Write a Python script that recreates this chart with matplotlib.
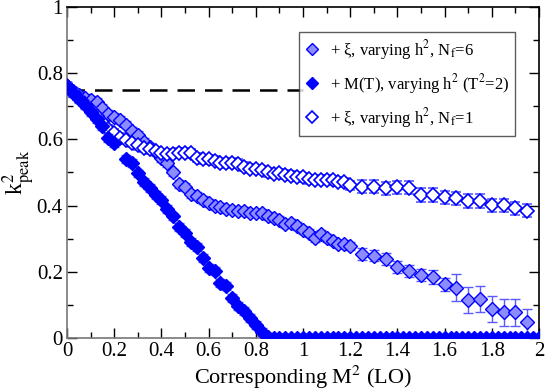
import matplotlib
matplotlib.use("Agg")
import matplotlib.pyplot as plt
from matplotlib.lines import Line2D
from matplotlib.ticker import MultipleLocator

plt.rcParams['font.family'] = ['Liberation Serif', 'DejaVu Serif']
plt.rcParams['mathtext.fontset'] = 'stix'

# x grid of the xi-series (dense up to 1.2, then every 0.05)
x_xi = [0.000, 0.025, 0.050, 0.075, 0.100, 0.125, 0.150, 0.175, 0.200, 0.225,
        0.250, 0.275, 0.300, 0.325, 0.350, 0.375, 0.400, 0.425, 0.450, 0.475,
        0.500, 0.525, 0.550, 0.575, 0.600, 0.625, 0.650, 0.675, 0.700, 0.725,
        0.750, 0.775, 0.800, 0.825, 0.850, 0.875, 0.900, 0.925, 0.950, 0.975,
        1.000, 1.025, 1.050, 1.075, 1.100, 1.125, 1.150, 1.175, 1.200,
        1.25, 1.30, 1.35, 1.40, 1.45, 1.50, 1.55, 1.60, 1.65, 1.70, 1.75,
        1.80, 1.85, 1.90, 1.95]

# + xi, varying h^2, N_f=6
k2_nf6 = [0.760, 0.745, 0.735, 0.725, 0.720, 0.712, 0.695, 0.678, 0.667, 0.658,
          0.645, 0.625, 0.613, 0.592, 0.576, 0.562, 0.545, 0.528, 0.500, 0.465,
          0.455, 0.436, 0.428, 0.417, 0.407, 0.399, 0.397, 0.389, 0.387, 0.385,
          0.384, 0.379, 0.379, 0.378, 0.369, 0.362, 0.356, 0.345, 0.348, 0.338,
          0.326, 0.316, 0.301, 0.314, 0.301, 0.292, 0.285, 0.285, 0.277,
          0.254, 0.249, 0.238, 0.213, 0.201, 0.190, 0.184, 0.162, 0.152, 0.115,
          0.117, 0.088, 0.077, 0.077, 0.048]
err_nf6 = [0.012] * 49 + [0.018, 0.018, 0.018, 0.018, 0.018, 0.018, 0.02, 0.02,
                          0.04, 0.04, 0.04, 0.04, 0.04, 0.04, 0.04]

# + xi, varying h^2, N_f=1
k2_nf1 = [0.760, 0.742, 0.725, 0.708, 0.690, 0.672, 0.652, 0.632, 0.618, 0.605,
          0.598, 0.590, 0.582, 0.575, 0.570, 0.565, 0.558, 0.555, 0.557, 0.560,
          0.560, 0.558, 0.545, 0.540, 0.540, 0.536, 0.530, 0.528, 0.530, 0.527,
          0.518, 0.512, 0.510, 0.508, 0.500, 0.496, 0.497, 0.493, 0.490, 0.487,
          0.485, 0.479, 0.478, 0.478, 0.478, 0.476, 0.472, 0.470, 0.461,
          0.457, 0.457, 0.452, 0.455, 0.454, 0.432, 0.432, 0.425, 0.422, 0.414,
          0.414, 0.401, 0.401, 0.392, 0.385]
err_nf1 = [0.013] * 49 + [0.02] * 15

# + M(T), varying h^2 (T^2=2)
x_mt = [0.000, 0.025, 0.050, 0.075, 0.100, 0.125, 0.150, 0.175, 0.200,
        0.250, 0.275, 0.300, 0.325, 0.350, 0.375, 0.400, 0.425, 0.450, 0.475,
        0.500, 0.525, 0.550, 0.575, 0.600, 0.625, 0.650, 0.675, 0.700, 0.725,
        0.750, 0.775, 0.800, 0.825, 0.850, 0.875, 0.900, 0.925, 0.950, 0.975,
        1.000, 1.025, 1.050, 1.075, 1.100, 1.125, 1.150, 1.175, 1.200, 1.225,
        1.250, 1.275, 1.300, 1.325, 1.350, 1.375, 1.400, 1.425, 1.450, 1.475,
        1.500, 1.525, 1.550, 1.575, 1.600, 1.625, 1.650, 1.675, 1.700, 1.725,
        1.750, 1.775, 1.800, 1.825, 1.850, 1.875, 1.900, 1.925, 1.950, 1.975,
        2.000]
k2_mt = [0.760, 0.740, 0.722, 0.703, 0.683, 0.663, 0.640, 0.605, 0.588,
         0.540, 0.528, 0.497, 0.472, 0.452, 0.432, 0.417, 0.390, 0.367, 0.336,
         0.317, 0.291, 0.276, 0.241, 0.210, 0.203, 0.166, 0.156, 0.120, 0.097,
         0.080, 0.060, 0.040, 0.019, 0.004, 0.0, 0.0, 0.0, 0.0, 0.0,
         0.0, 0.0, 0.0, 0.0, 0.0, 0.0, 0.0, 0.0, 0.0, 0.0,
         0.0, 0.0, 0.0, 0.0, 0.0, 0.0, 0.0, 0.0, 0.0, 0.0,
         0.0, 0.0, 0.0, 0.0, 0.0, 0.0, 0.0, 0.0, 0.0, 0.0,
         0.0, 0.0, 0.0, 0.0, 0.0, 0.0, 0.0, 0.0, 0.0, 0.0,
         0.0]
err_mt = [0.012] * 34 + [0.0] * 46

legend_labels = [r'+ ξ, varying h$^2$, N$_\mathrm{f}$=6',
                 r'+ M(T), varying h$^2$ (T$^2$=2)',
                 r'+ ξ, varying h$^2$, N$_\mathrm{f}$=1']

blue = '#0000ff'
light = '#8c8cff'
ebar = '#5a5aff'

fig = plt.figure(figsize=(5.45, 3.92), dpi=100)
ax = fig.add_axes([0.123, 0.138, 0.866, 0.844])

# reference line
ax.plot([0, 1], [0.75, 0.75], color='k', lw=1.8, dashes=(7, 4), zorder=1)
ax.annotate('', xy=(0.0, 0.75), xytext=(0.035, 0.75),
            arrowprops=dict(arrowstyle='-|>', color='k', lw=1.2,
                            mutation_scale=9), zorder=1)

ax.errorbar(x_xi, k2_nf6, yerr=err_nf6, fmt='D', ms=7, mfc=light, mec=blue,
            mew=1.0, ecolor=ebar, elinewidth=1, capsize=3.5, zorder=3)
ax.errorbar(x_mt, k2_mt, yerr=err_mt, fmt='D', ms=7, mfc=blue, mec=blue,
            mew=1.0, ecolor=ebar, elinewidth=1, capsize=3.5, zorder=4)
ax.errorbar(x_xi, k2_nf1, yerr=err_nf1, fmt='D', ms=7, mfc='white', mec=blue,
            mew=1.2, ecolor=ebar, elinewidth=1, capsize=3.5, zorder=3)

ax.set_xlim(0, 2)
ax.set_ylim(0, 1)
ax.set_xticks([0, 0.2, 0.4, 0.6, 0.8, 1.0, 1.2, 1.4, 1.6, 1.8, 2.0])
ax.set_yticks([0, 0.2, 0.4, 0.6, 0.8, 1.0])
ax.set_xticklabels(['0', '0.2', '0.4', '0.6', '0.8', '1', '1.2', '1.4', '1.6',
                    '1.8', '2'])
ax.set_yticklabels(['0', '0.2', '0.4', '0.6', '0.8', '1'])
ax.xaxis.set_minor_locator(MultipleLocator(0.1))
ax.yaxis.set_minor_locator(MultipleLocator(0.1))
ax.tick_params(which='both', direction='in', top=True, right=True,
               labelsize=15, pad=3)
ax.tick_params(which='major', length=7, width=1)
ax.tick_params(which='minor', length=4, width=1)
for side in ['left', 'bottom']:
    ax.spines[side].set_color('#777777')
for side in ['left', 'bottom', 'top', 'right']:
    ax.spines[side].set_linewidth(1.2)

ax.set_xlabel(r'Corresponding M$^2$ (LO)', fontsize=16, labelpad=2)
ax.set_ylabel(r'k$^2_{\mathrm{peak}}$', fontsize=17)
ax.yaxis.set_label_coords(-0.064, 0.5)

handles = [Line2D([0], [0], marker='D', ls='none', ms=6, mfc=light, mec=blue),
           Line2D([0], [0], marker='D', ls='none', ms=6, mfc=blue, mec=blue),
           Line2D([0], [0], marker='D', ls='none', ms=6, mfc='white', mec=blue,
                  mew=1.2)]
leg = ax.legend(handles, legend_labels, loc='upper right',
                bbox_to_anchor=(0.95, 0.925), borderaxespad=0, fontsize=12,
                frameon=True, fancybox=False, edgecolor='#333333',
                handlelength=0.8, handletextpad=0.7, borderpad=0.35,
                labelspacing=0.6)
leg.get_frame().set_linewidth(1.0)

fig.savefig('out.png', dpi=100)
